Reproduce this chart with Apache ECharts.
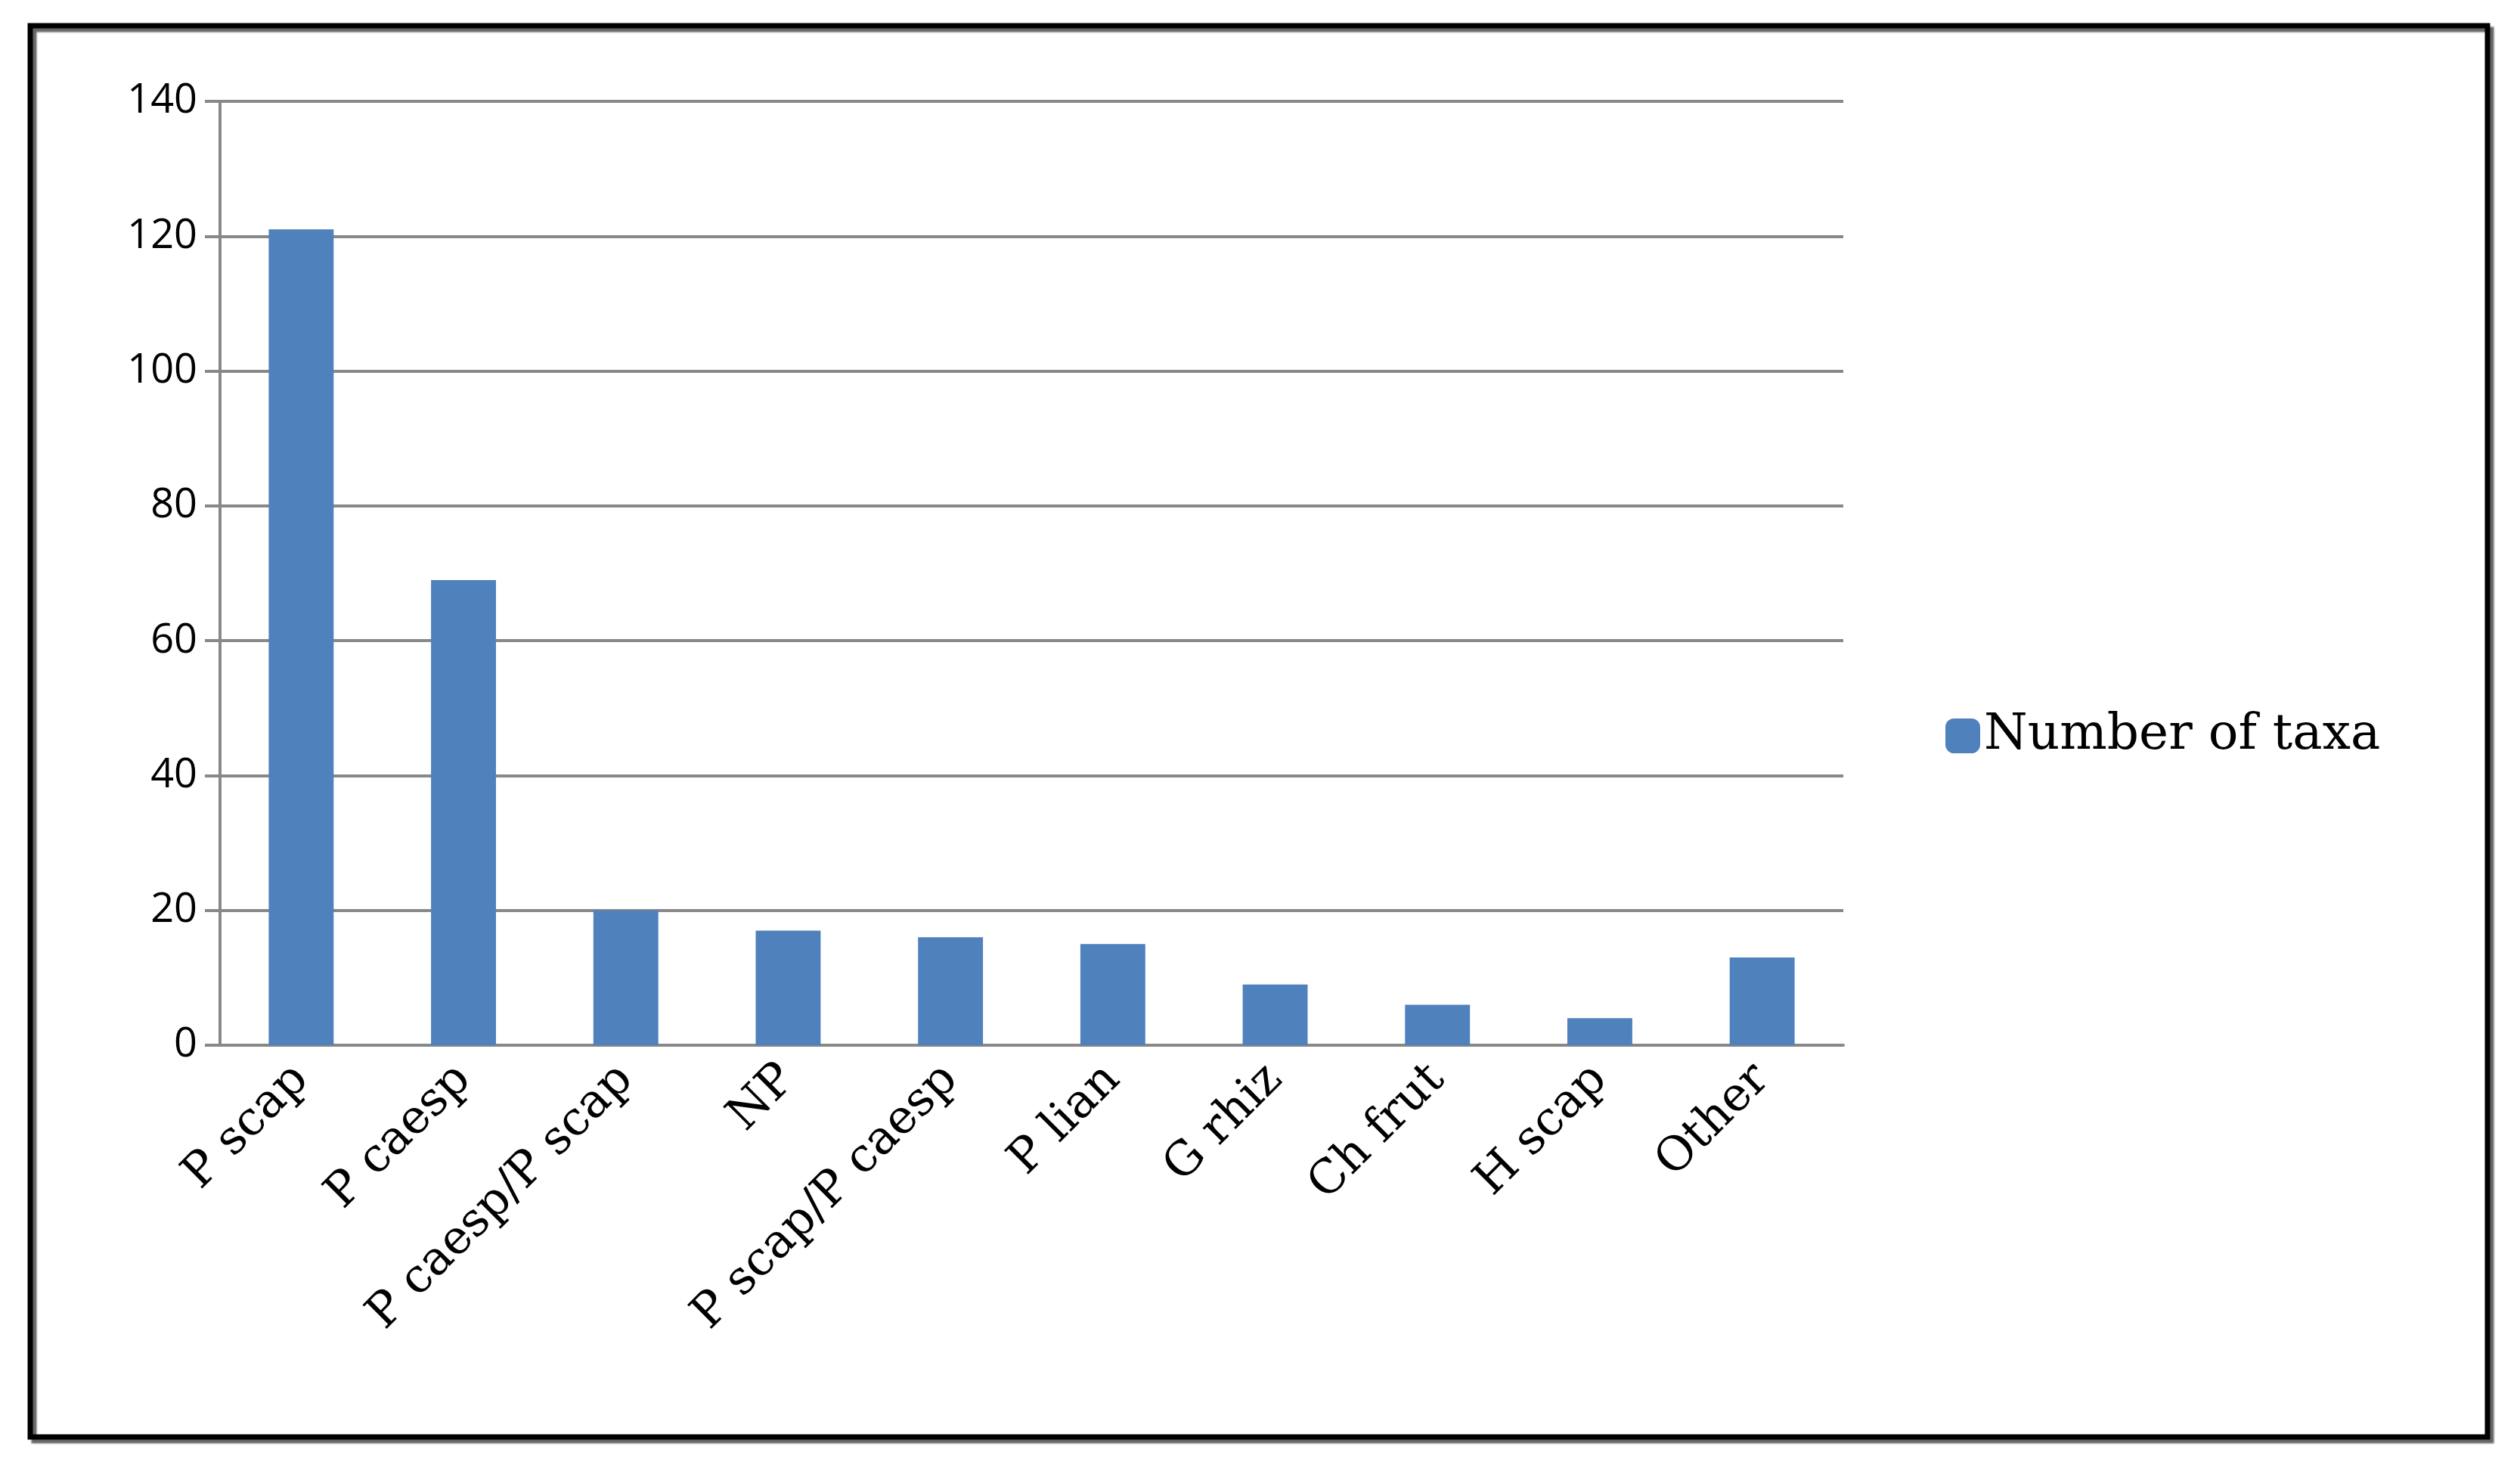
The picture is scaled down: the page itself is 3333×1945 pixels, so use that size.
<!DOCTYPE html>
<html>
<head>
<meta charset="utf-8">
<script src="https://cdn.jsdelivr.net/npm/echarts@6/dist/echarts.min.js"></script>
<style>html,body{margin:0;background:#fff}#main{width:3333px;height:1945px}</style>
</head>
<body>
<div id="main"></div>
<script>
// growth forms and taxa counts
var categories = ['P scap', 'P caesp', 'P caesp/P scap', 'NP', 'P scap/P caesp', 'P lian', 'G rhiz', 'Ch frut', 'H scap', 'Other'];
var taxa = [121, 69, 20, 17, 16, 15, 9, 6, 4, 13];

var chart = echarts.init(document.getElementById('main'));

chart.setOption({
    backgroundColor: '#fff',
    animation: false,
    graphic: [{
        type: 'rect',
        shape: { x: 40, y: 34, width: 3250, height: 1866 },
        style: { fill: 'none', stroke: '#000', lineWidth: 7, shadowColor: 'rgba(0,0,0,0.6)', shadowOffsetX: 5, shadowOffsetY: 5, shadowBlur: 2 }
    }],
    legend: {
        left: 2568, top: 935,
        itemWidth: 46, itemHeight: 46,
        textStyle: { fontFamily: 'DejaVu Serif', fontSize: 66, color: '#000' },
        data: ['Number of taxa']
    },
    grid: { left: 291, right: 3333 - 2438, top: 134, bottom: 1945 - 1382 },
    xAxis: {
        type: 'category',
        data: categories,
        axisLine: { lineStyle: { color: '#888', width: 4 } },
        axisTick: { length: 20, lineStyle: { color: '#888', width: 4 } },
        axisLabel: { rotate: 45, margin: 36, fontFamily: 'DejaVu Serif', fontSize: 62, color: '#000' }
    },
    yAxis: {
        type: 'value',
        min: 0, max: 140, interval: 20,
        axisLine: { show: true, lineStyle: { color: '#888', width: 4 } },
        axisTick: { show: true, length: 20, lineStyle: { color: '#888', width: 4 } },
        splitLine: { lineStyle: { color: '#888', width: 4 } },
        axisLabel: { margin: 30, fontFamily: 'Open Sans', fontSize: 54, color: '#000' }
    },
    series: [{
        name: 'Number of taxa',
        type: 'bar',
        data: taxa,
        barWidth: '40%',
        itemStyle: { color: '#4F81BD' }
    }]
});
</script>
</body>
</html>
